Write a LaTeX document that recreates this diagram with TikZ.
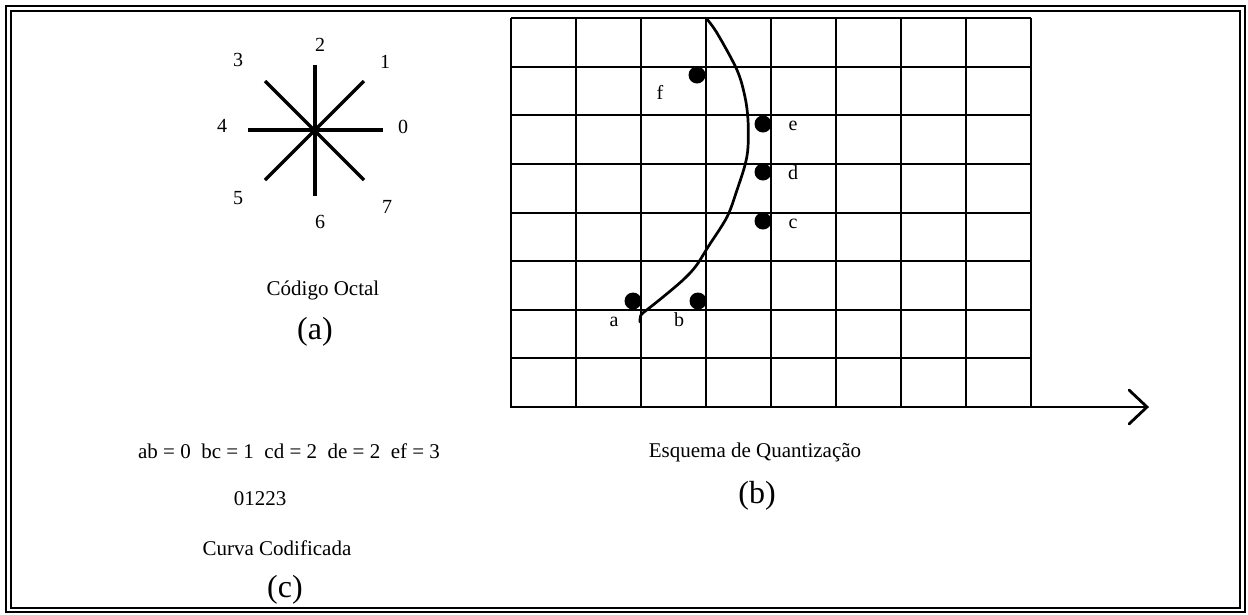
\documentclass[tikz,border=0pt]{standalone}
\usepackage{fontspec}
\setmainfont{Liberation Serif}
\begin{document}
\begin{tikzpicture}[x=1pt,y=-1pt,
  frame/.style={line width=1.5pt},
  gridline/.style={line width=2.4pt},
  ray/.style={line width=3.2pt},
  lbl/.style={font=\fontsize{20}{22}\selectfont, inner sep=0pt, anchor=center},
  txt/.style={font=\fontsize{21}{24}\selectfont, inner sep=0pt, anchor=center},
  bigcap/.style={font=\fontsize{32}{36}\selectfont, inner sep=0pt, anchor=center},
  pt/.style={circle, fill=black, inner sep=0pt, minimum size=17pt},
  curve/.style={line width=2.7pt, line cap=round, line join=round}]
\useasboundingbox (0,0) rectangle (1248,614);
% double frame
\draw[frame] (6,6) rectangle (1245,612);
\draw[frame] (11,11) rectangle (1240,608);

% ---- (a) octal code star
\coordinate (o) at (315,130);
\draw[ray] (248,130) -- (383,130);
\draw[ray] (315,65) -- (315,196);
\draw[ray] (265,81) -- (364,180);
\draw[ray] (265,180) -- (364,81);
\node[lbl] (n0) at (403,127) {0};
\node[lbl] (n1) at (385,62) {1};
\node[lbl] (n2) at (320,45) {2};
\node[lbl] (n3) at (238,60) {3};
\node[lbl] (n4) at (222,126) {4};
\node[lbl] (n5) at (238,198) {5};
\node[lbl] (n6) at (320,222) {6};
\node[lbl] (n7) at (387,207) {7};
\node[txt] (octal) at (323,290) {Código Octal};
\node[bigcap] (capa) at (315,332) {(a)};

% ---- (b) grid
\foreach \i in {0,...,8} {
  \draw[gridline] ({511+65*\i},18) -- ({511+65*\i},407);
}
\foreach \yy in {18,67,115,164,213,261,310,358} {
  \draw[gridline] (511,\yy) -- (1031,\yy);
}
\coordinate (axs) at (510,407);
\coordinate (tip) at (1147,407);
\draw[gridline] (axs) -- (tip);
\draw[line width=2.8pt, line cap=round, line join=miter] (1129,390) -- (tip) -- (1129,424);

% curve
\draw[curve] plot[smooth, tension=0.55] coordinates {
  (706,18) (717,33) (737,70) (745,97) (748,120) (748,147) (745,165)
  (737,190) (727,217) (708,247) (696,266) (683,280) (663,297) (648,309) (641,315) (640,322)};

% dots
\node[pt] (a) at (633,301) {};
\node[pt] (b) at (698,301) {};
\node[pt] (c) at (763,221) {};
\node[pt] (d) at (763,172) {};
\node[pt] (e) at (763,124) {};
\node[pt] (f) at (697,75) {};
\node[lbl] (la) at (614,322) {a};
\node[lbl] (lb) at (679,320) {b};
\node[lbl] (lc) at (793,224) {c};
\node[lbl] (ld) at (793,173) {d};
\node[lbl] (le) at (793,126) {e};
\node[lbl] (lf) at (660,92) {f};

\node[txt] (esq) at (755,452) {Esquema de Quantização};
\node[bigcap] (capb) at (757,496) {(b)};

% ---- (c)
\node[txt] (codes) at (289,451) {ab = 0\ \ bc = 1\ \ cd = 2\ \ de = 2\ \ ef = 3};
\node[txt] (seq) at (260,499) {01223};
\node[txt] (curva) at (277,548) {Curva Codificada};
\node[bigcap] (capc) at (285,590) {(c)};
\end{tikzpicture}
\end{document}
